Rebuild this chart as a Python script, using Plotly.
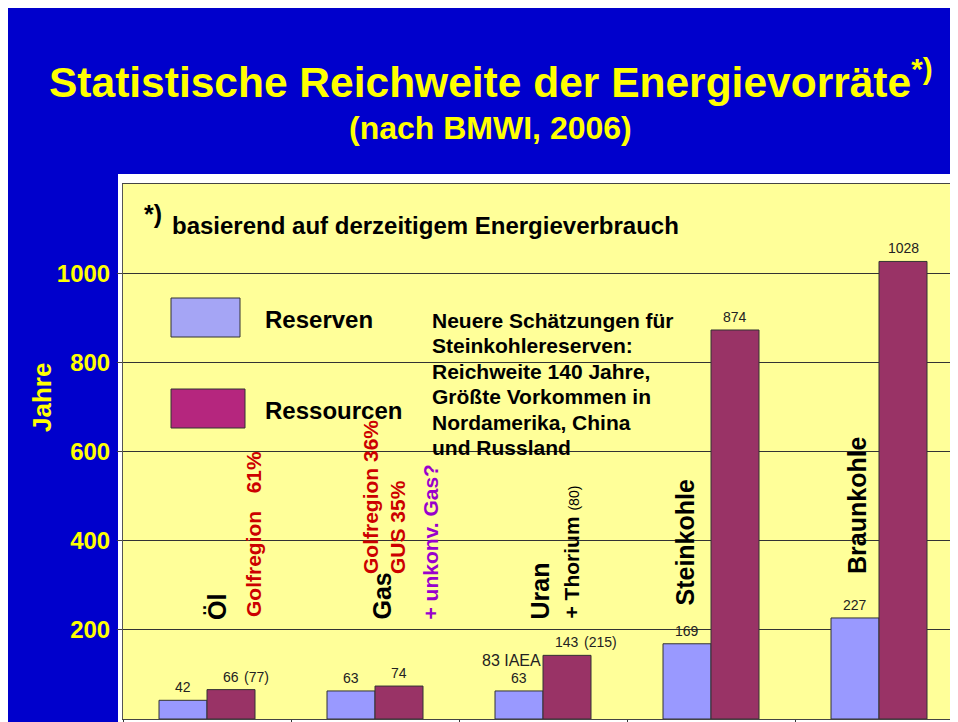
import plotly.graph_objects as go

# Daten (Jahre statistische Reichweite)
categories = ["Öl", "Gas", "Uran", "Steinkohle", "Braunkohle"]
reserven = [42, 63, 63, 169, 227]
ressourcen = [66, 74, 143, 874, 1028]
y_ticks = [200, 400, 600, 800, 1000]

# Zusatzangaben neben den Ressourcen-Werten
extra_ressourcen = {"Öl": "(77)", "Uran": "(215)"}
uran_iaea = "83 IAEA"

hinweis_zeilen = [
    "Neuere Schätzungen für",
    "Steinkohlereserven:",
    "Reichweite 140 Jahre,",
    "Größte Vorkommen in",
    "Nordamerika, China",
    "und Russland",
]

FONT = "Arial, Liberation Sans, sans-serif"
BLUE = "#0000CC"
YELLOW = "#FFFF00"
RED = "#CC0000"
PURPLE = "#9900CC"

# Seite hat 8px Rand; Positionen unten in Bildschirm-Pixeln
OX = OY = 8
W, H = 958, 722
L, T = 123 - OX, 184 - OY
PLOT_BOTTOM = 719 - OY
B = H - PLOT_BOTTOM
PW = W - L
PH = PLOT_BOTTOM - T
X_RIGHT = -0.5 + (958 - 123 + (W - (958 - OX))) / 168   # 168 px pro Kategorie


def px(x):
    return (x - OX - L) / PW


def py(y):
    return (PLOT_BOTTOM - (y - OY)) / PH


fig = go.Figure()

fig.add_trace(go.Bar(
    x=categories, y=reserven, name="Reserven",
    marker=dict(color="#9999FF", line=dict(color="#333333", width=1)),
))
fig.add_trace(go.Bar(
    x=categories, y=ressourcen, name="Ressourcen",
    marker=dict(color="#993366", line=dict(color="#333333", width=1)),
))

# Hintergrundflächen
shapes = [
    dict(type="rect", xref="paper", yref="paper", x0=px(118), x1=px(990), y0=py(760), y1=py(174),
         fillcolor="white", line=dict(width=0), layer="below"),
    dict(type="rect", xref="paper", yref="paper", x0=0, x1=1, y0=0, y1=1,
         fillcolor="#FFFF99", line=dict(width=0), layer="below"),
    # Legendenkästchen
    dict(type="rect", xref="paper", yref="paper", x0=px(171), x1=px(240), y0=py(337), y1=py(298),
         fillcolor="#A5A5F5", line=dict(color="#333333", width=1), layer="above"),
    dict(type="rect", xref="paper", yref="paper", x0=px(171), x1=px(245), y0=py(428), y1=py(389),
         fillcolor="#B5267E", line=dict(color="#333333", width=1), layer="above"),
]

ann = []

# Titel
ann.append(dict(x=px(47), y=py(79), xanchor="left", yanchor="middle",
                text="<b>Statistische Reichweite der Energievorräte<sup>*)</sup></b>",
                font=dict(family=FONT, size=42.5, color=YELLOW)))
ann.append(dict(x=px(490), y=py(128), xanchor="center", yanchor="middle",
                text="<b>(nach BMWI, 2006)</b>",
                font=dict(family=FONT, size=32, color=YELLOW)))
ann.append(dict(x=px(42), y=py(398), xanchor="center", yanchor="middle", textangle=-90,
                text="<b>Jahre</b>", font=dict(family=FONT, size=26, color=YELLOW)))

# Fußnote und Legende
ann.append(dict(x=px(142), y=py(214), xanchor="left", yanchor="middle",
                text="<b>*)</b>", font=dict(family=FONT, size=25, color="black")))
ann.append(dict(x=px(170), y=py(225), xanchor="left", yanchor="middle",
                text="<b>basierend auf derzeitigem Energieverbrauch</b>",
                font=dict(family=FONT, size=24, color="black")))
ann.append(dict(x=px(263), y=py(319), xanchor="left", yanchor="middle",
                text="<b>Reserven</b>", font=dict(family=FONT, size=24, color="black")))
ann.append(dict(x=px(263), y=py(410), xanchor="left", yanchor="middle",
                text="<b>Ressourcen</b>", font=dict(family=FONT, size=24, color="black")))

for i, zeile in enumerate(hinweis_zeilen):
    ann.append(dict(x=px(430), y=py(320 + i * 25.5), xanchor="left", yanchor="middle",
                    text="<b>" + zeile + "</b>", font=dict(family=FONT, size=21, color="black")))


# Senkrechte Beschriftungen
def vlabel(x, y_bottom, text, size, color, align="left"):
    ann.append(dict(x=px(x), y=py(y_bottom), xanchor="center", yanchor="bottom",
                    textangle=-90, align=align, text=text,
                    font=dict(family=FONT, size=size, color=color)))


vlabel(217, 622, "<b>Öl</b>", 25, "black")
vlabel(253, 619, "<b>Golfregion\u00a0\u00a0\u00a061%</b>", 21, RED)
vlabel(381, 622, "<b>Gas</b>", 25, "black")
vlabel(384, 576, "<b>Golfregion 36%<br>GUS 35%</b>", 21, RED)
vlabel(430, 622, "<b>+ unkonv. Gas?</b>", 21, PURPLE)
vlabel(539, 622, "<b>Uran</b>", 25, "black")
vlabel(571, 621, "<b>+ Thorium</b> <span style='font-size:14px'>(80)</span>", 21, "black")
vlabel(684, 608, "<b>Steinkohle</b>", 25, "black")
vlabel(857, 576, "<b>Braunkohle</b>", 25, "black")

# Werte über den Balken
val_font = dict(family=FONT, size=14, color="#222222")
for i, cat in enumerate(categories):
    ann.append(dict(x=cat, y=reserven[i], xref="x", yref="y", xshift=-24, yshift=3,
                    xanchor="center", yanchor="bottom", text=str(reserven[i]), font=val_font))
    ann.append(dict(x=cat, y=ressourcen[i], xref="x", yref="y", xshift=24, yshift=3,
                    xanchor="center", yanchor="bottom", text=str(ressourcen[i]), font=val_font))
    if cat in extra_ressourcen:
        half = len(str(ressourcen[i])) * 0.556 * 14 / 2
        ann.append(dict(x=cat, y=ressourcen[i], xref="x", yref="y", xshift=24 + half + 3, yshift=3,
                        xanchor="left", yanchor="bottom", text=extra_ressourcen[cat], font=val_font))

uran_i = categories.index("Uran")
ann.append(dict(x="Uran", y=reserven[uran_i], xref="x", yref="y", xshift=0, yshift=20,
                xanchor="right", yanchor="bottom", text=uran_iaea,
                font=dict(family=FONT, size=16, color="#222222")))

for a in ann:
    a.setdefault("xref", "paper")
    a.setdefault("yref", "paper")
    a["showarrow"] = False

fig.update_layout(
    width=W, height=H,
    margin=dict(l=L, r=0, t=T, b=B, pad=0),
    paper_bgcolor=BLUE,
    plot_bgcolor="rgba(0,0,0,0)",
    barmode="group",
    bargap=0.4286,
    bargroupgap=0,
    showlegend=False,
    shapes=shapes,
    annotations=ann,
    xaxis=dict(
        range=[-0.5, X_RIGHT], showticklabels=False, showgrid=False,
        tickson="boundaries", ticks="outside", ticklen=4, tickcolor="#333333",
        showline=True, linecolor="#444444", linewidth=1, mirror=True, zeroline=False,
    ),
    yaxis=dict(
        range=[0, 1202], tickvals=y_ticks, ticks="outside", ticklen=5, tickcolor="#444444",
        tickfont=dict(family=FONT, size=24, color=YELLOW, weight="bold"),
        ticklabelstandoff=2,
        showgrid=True, gridcolor="#333333", gridwidth=1,
        showline=True, linecolor="#555555", linewidth=1, zeroline=False,
    ),
)

# Folie ist größer als das Fenster: ohne Scrollbalken abschneiden
fig.write_html(
    "out.html",
    post_script="document.documentElement.style.overflow='hidden';"
                "document.body.style.overflow='hidden';",
)
